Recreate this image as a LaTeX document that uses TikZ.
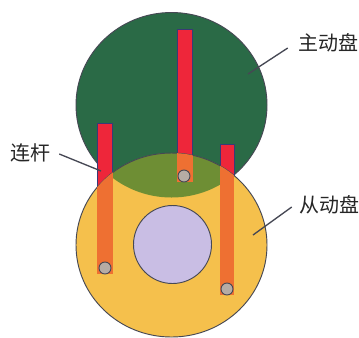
\documentclass[tikz,border=0pt]{standalone}
\usepackage{fontspec}
\setmainfont{Noto Sans CJK SC}
\usetikzlibrary{positioning}
\definecolor{diskgreen}{RGB}{42,106,70}
\definecolor{diskyellow}{RGB}{245,192,76}
\definecolor{lensolive}{RGB}{110,142,52}
\definecolor{hublilac}{RGB}{201,190,228}
\definecolor{rodred}{RGB}{238,38,58}
\definecolor{rodorange}{RGB}{238,112,50}
\definecolor{pingrey}{RGB}{182,172,165}
\definecolor{edgegrey}{RGB}{70,72,84}
\begin{document}
\begin{tikzpicture}[x=0.75pt,y=-0.75pt,
  every node/.style={font=\fontsize{15pt}{16pt}\selectfont,text=black!85,inner sep=0pt},
  disk/.style={draw=edgegrey,line width=0.7pt},
  rod/.style={draw=edgegrey!80!blue,fill=rodred,line width=0.5pt},
  rodlow/.style={fill=rodorange},
  pin/.style={draw=edgegrey,fill=pingrey,line width=0.7pt},
  lead/.style={draw=edgegrey,line width=1pt}]
\useasboundingbox (0,0) rectangle (359,337);
\def\topdisk{(171.5,105) ellipse [x radius=95.5,y radius=92.5]}
\def\lowdisk{(171.5,245) ellipse [x radius=95.5,y radius=92]}
\fill[white] (0,0) rectangle (359,337);
\fill[diskgreen,disk] \topdisk;
\fill[rod] (97,123) rectangle (112,200);
\fill[rod] (177,29) rectangle (192,170);
\fill[rod] (220,144) rectangle (234,200);
\fill[diskyellow] \lowdisk;
\begin{scope}
  \clip \topdisk;
  \fill[lensolive] \lowdisk;
\end{scope}
\draw[disk] \lowdisk;
\begin{scope}
  \clip \lowdisk;
  \fill[rodlow] (97,150) rectangle (113,274);
  \fill[rodlow] (177,150) rectangle (193,182);
  \fill[rodlow] (220,150) rectangle (234,295);
\end{scope}
\fill[hublilac,disk] (172.5,244.5) circle [radius=39];
\fill[pin] (105,268) circle [radius=6];
\fill[pin] (184,176) circle [radius=6];
\fill[pin] (227,289) circle [radius=6];
\node (lian) at (30,153) {连杆};
\node (zhu) at (328,43) {主动盘};
\node (cong) at (329,205) {从动盘};
\coordinate (lianend) at (101,171);
\coordinate (zhuend) at (248,74);
\coordinate (congend) at (253,235);
\draw[lead] (lian.east)++(9,1) -- (lianend);
\draw[lead] (zhu.west)++(-10,5) -- (zhuend);
\draw[lead] (cong.west)++(-7,2) -- (congend);
\end{tikzpicture}
\end{document}
